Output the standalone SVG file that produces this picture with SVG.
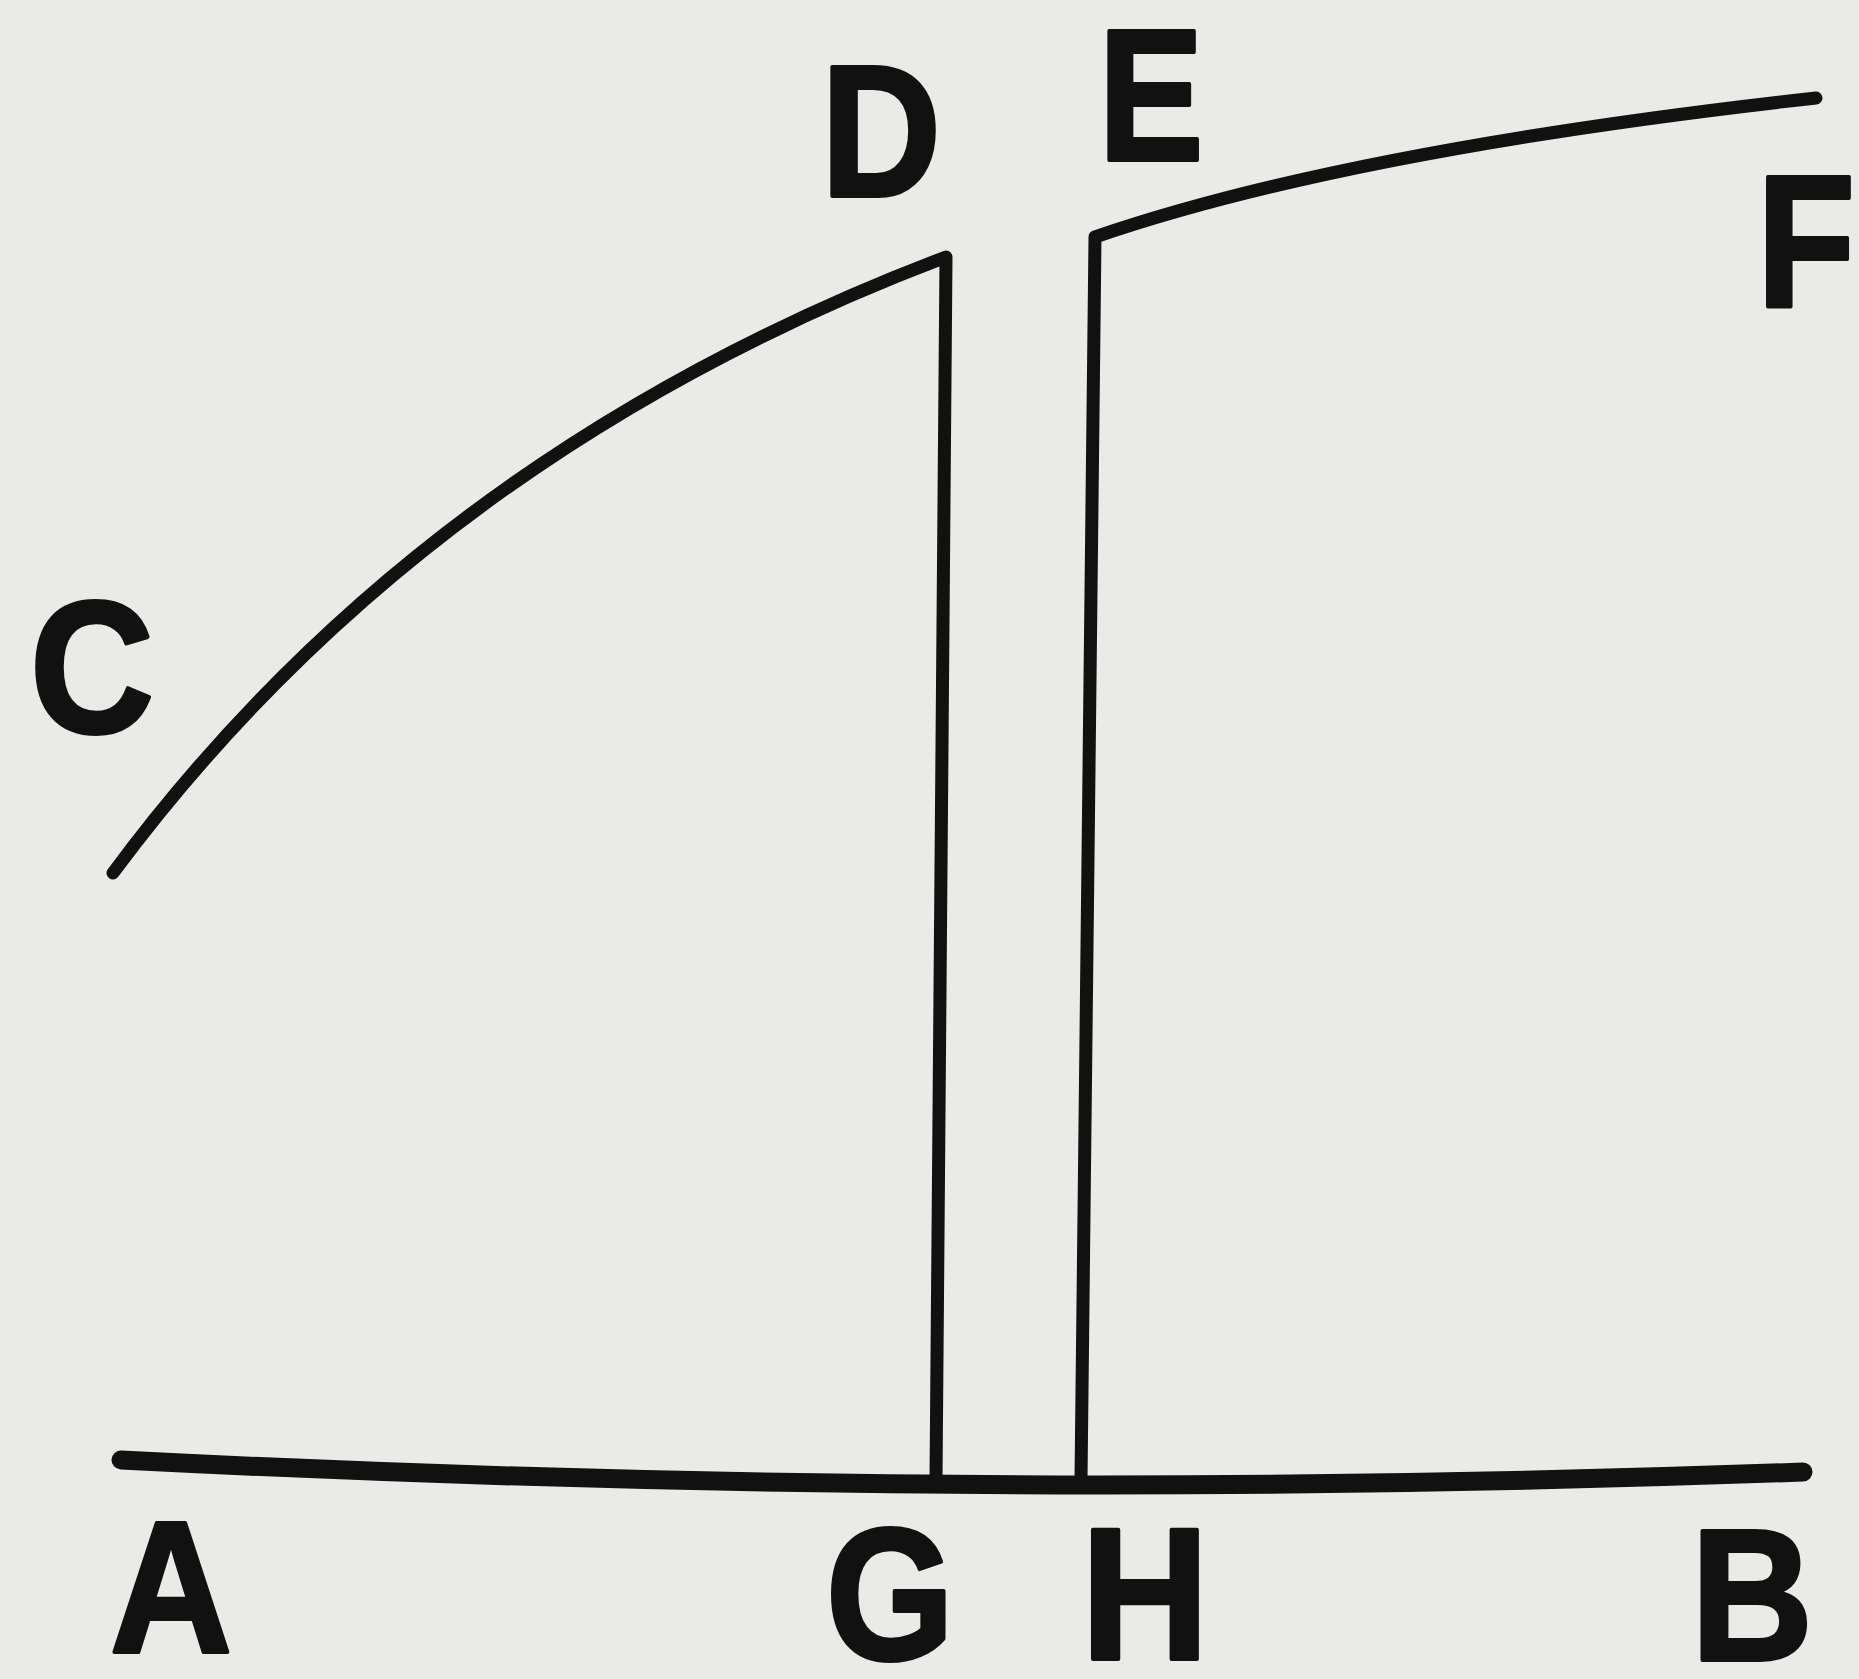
<svg xmlns="http://www.w3.org/2000/svg" width="1859" height="1679" viewBox="0 0 1859 1679">
<style>
.ln{fill:none;stroke:#111;stroke-linecap:round;stroke-linejoin:round}
.lb{font-family:"Liberation Sans","DejaVu Sans",sans-serif;font-weight:bold;font-size:188px;fill:#111;stroke:#111;stroke-width:4;stroke-linejoin:round;text-anchor:middle}
</style>
<rect width="1859" height="1679" fill="#eaeae7"/>
<g id="connectors">
<path class="ln" stroke-width="19" d="M121,1460 Q962,1503 1803,1472"/>
<path class="ln" stroke-width="13" d="M113,873 Q423,455 946,257 L936,1480"/>
<path class="ln" stroke-width="13" d="M1081,1480 L1095,237 Q1348,150 1816,98"/>
</g>
<g id="node-A"><text class="lb" x="171" y="1652" textLength="122" lengthAdjust="spacingAndGlyphs">A</text></g>
<g id="node-B"><text class="lb" x="1752" y="1660" textLength="122" lengthAdjust="spacingAndGlyphs">B</text></g>
<g id="node-C"><text class="lb" x="92" y="732" textLength="124" lengthAdjust="spacingAndGlyphs">C</text></g>
<g id="node-D"><text class="lb" x="881" y="196" textLength="120" lengthAdjust="spacingAndGlyphs">D</text></g>
<g id="node-E"><text class="lb" x="1151" y="160" textLength="105" lengthAdjust="spacingAndGlyphs">E</text></g>
<g id="node-F"><text class="lb" x="1806" y="306" textLength="98" lengthAdjust="spacingAndGlyphs">F</text></g>
<g id="node-G"><text class="lb" x="890" y="1659" textLength="128" lengthAdjust="spacingAndGlyphs">G</text></g>
<g id="node-H"><text class="lb" x="1145" y="1659" textLength="128" lengthAdjust="spacingAndGlyphs">H</text></g>
</svg>
